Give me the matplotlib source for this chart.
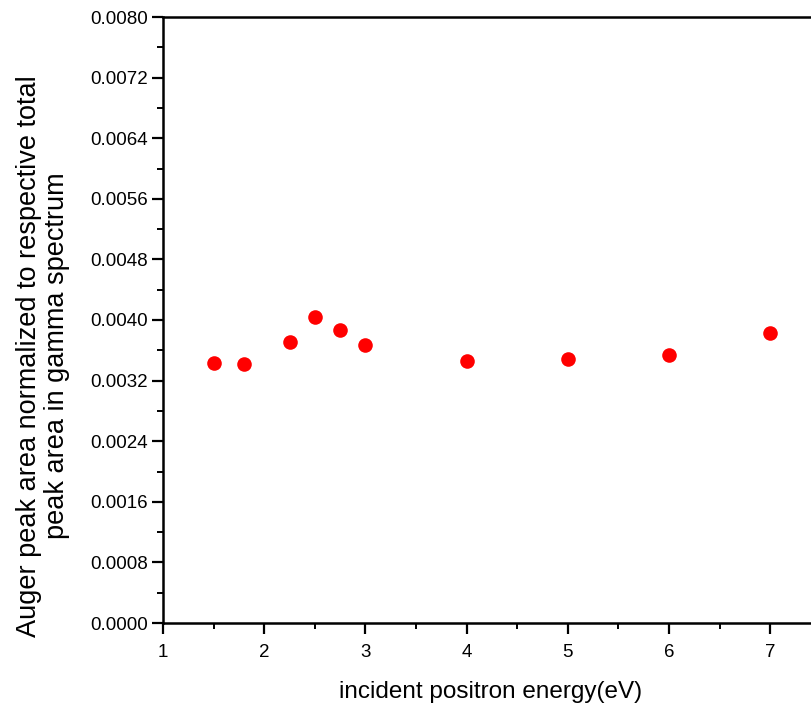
import matplotlib.pyplot as plt
from matplotlib.ticker import MultipleLocator, FormatStrFormatter

plt.rcParams['font.family'] = ['Liberation Sans', 'DejaVu Sans']

# data
energy = [1.5, 1.8, 2.25, 2.5, 2.75, 3.0, 4.0, 5.0, 6.0, 7.0]
auger_ratio = [0.003430, 0.003415, 0.003705, 0.004040, 0.003868,
               0.003675, 0.003459, 0.003482, 0.003538, 0.003828]

fig = plt.figure(figsize=(8.12, 7.14), dpi=100)
# axes runs past the right edge of the picture, as in the reference
ax = fig.add_axes([163 / 812, 91 / 714, 649 / 812, 606 / 714])

ax.plot(energy, auger_ratio, 'o', color='#ff0000', markersize=10.5,
        markeredgewidth=0, clip_on=False)

ax.set_xlim(1, 1 + 649 / 101.2)
ax.set_ylim(0, 0.008)

ax.xaxis.set_major_locator(MultipleLocator(1))
ax.xaxis.set_minor_locator(MultipleLocator(0.5))
ax.yaxis.set_major_locator(MultipleLocator(0.0008))
ax.yaxis.set_minor_locator(MultipleLocator(0.0004))
ax.yaxis.set_major_formatter(FormatStrFormatter('%.4f'))

for side in ['left', 'bottom', 'top']:
    ax.spines[side].set_linewidth(1.8)
ax.spines['right'].set_visible(False)

ax.tick_params(which='major', direction='out', length=8, width=1.6,
               labelsize=13.5)
ax.tick_params(which='minor', direction='out', length=4.5, width=1.4)
ax.tick_params(axis='x', which='both', top=False, pad=7)
ax.tick_params(axis='y', pad=3)

fig.text(491 / 812, 1 - 692 / 714, 'incident positron energy(eV)',
         fontsize=17.5, ha='center', va='center')
fig.text(43 / 812, 1 - 356 / 714,
         'Auger peak area normalized to respective total\npeak area in gamma spectrum',
         fontsize=19.5, ha='center', va='center', rotation=90,
         multialignment='center', linespacing=1.12)

fig.savefig('out.png', dpi=100)
